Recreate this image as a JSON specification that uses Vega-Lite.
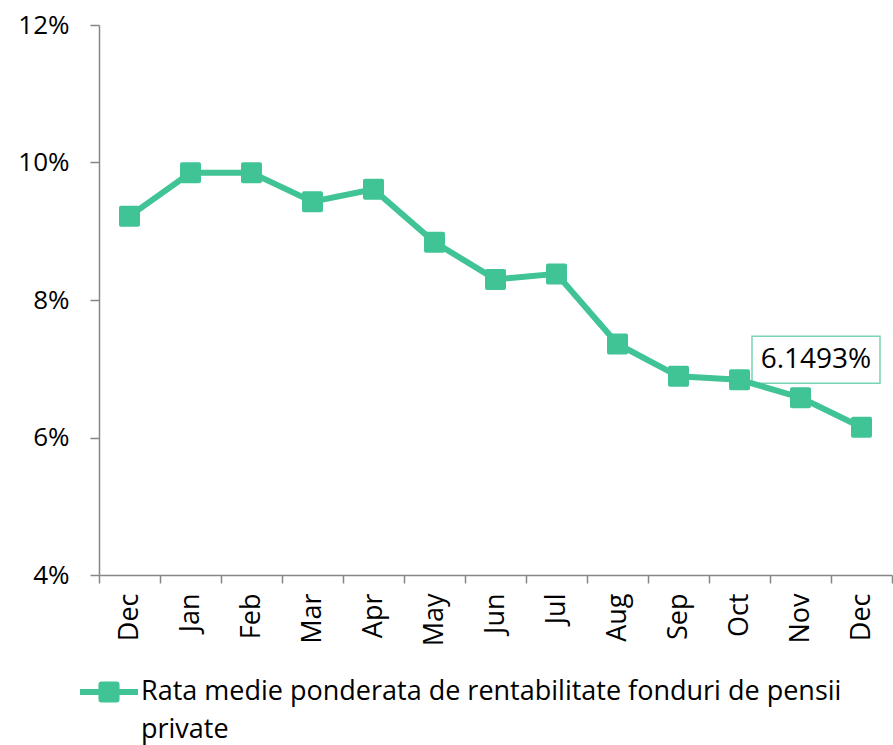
{
  "$schema": "https://vega.github.io/schema/vega-lite/v6.json",
  "width": 793,
  "height": 550,
  "autosize": {"type": "none"},
  "padding": {"left": 99, "top": 25, "right": 1, "bottom": 170},
  "background": "white",
  "config": {
    "view": {"stroke": null},
    "font": "Open Sans",
    "axis": {"labelFont": "Open Sans", "labelFontSize": 26, "labelColor": "#000000", "domainColor": "#868686", "tickColor": "#868686", "domainWidth": 1.5, "tickWidth": 1.5, "grid": false, "title": null}
  },
  "data": {
    "values": [
      {"m": "Dec_0", "v": 0.0922},
      {"m": "Jan", "v": 0.0985},
      {"m": "Feb", "v": 0.0985},
      {"m": "Mar", "v": 0.0943},
      {"m": "Apr", "v": 0.0961},
      {"m": "May", "v": 0.0884},
      {"m": "Jun", "v": 0.0830},
      {"m": "Jul", "v": 0.0838},
      {"m": "Aug", "v": 0.0736},
      {"m": "Sep", "v": 0.0689},
      {"m": "Oct", "v": 0.0684},
      {"m": "Nov", "v": 0.0658},
      {"m": "Dec_1", "v": 0.061493, "lab": "6.1493%"}
    ]
  },
  "encoding": {
    "x": {
      "field": "m", "type": "nominal", "sort": null,
      "scale": {"type": "band", "paddingInner": 0, "paddingOuter": 0, "domain": ["Dec_0", "Jan", "Feb", "Mar", "Apr", "May", "Jun", "Jul", "Aug", "Sep", "Oct", "Nov", "Dec_1"]},
      "axis": {"labelAngle": -90, "labelExpr": "split(datum.label, '_')[0]", "tickBand": "extent", "tickSize": 8, "labelPadding": 10, "labelFontSize": 27}
    },
    "y": {
      "field": "v", "type": "quantitative",
      "scale": {"domain": [0.04, 0.12], "nice": false, "zero": false},
      "axis": {"values": [0.04, 0.06, 0.08, 0.10, 0.12], "format": ".0%", "tickSize": 9, "labelPadding": 21}
    }
  },
  "layer": [
    {
      "transform": [{"filter": "datum.lab"}],
      "mark": {"type": "point", "shape": "M-1,-0.367H1V0.367H-1Z", "size": 16384, "filled": true, "fill": "white", "stroke": "#40C395", "strokeWidth": 1.5, "xOffset": -45.5, "yOffset": -67.5}
    },
    {
      "mark": {"type": "line", "color": "#40C395", "strokeWidth": 6},
      "encoding": {
        "color": {
          "datum": "Rata medie ponderata de rentabilitate fonduri de pensii private",
          "type": "nominal",
          "scale": {"range": ["#40C395"]},
          "legend": {
            "title": null,
            "orient": "none",
            "legendX": -22,
            "legendY": 635,
            "symbolType": "M-1,0H1M-0.26,-0.26H0.26V0.26H-0.26Z",
            "symbolSize": 3364,
            "symbolStrokeWidth": 6,
            "labelFont": "Open Sans",
            "labelFontSize": 27,
            "labelColor": "#000000",
            "labelLimit": 900,
            "labelOffset": 0,
            "labelExpr": "['Rata medie ponderata de rentabilitate fonduri de pensii', 'private']",
            "encode": {
              "symbols": {"update": {"fill": {"value": "#40C395"}, "stroke": {"value": "#40C395"}, "strokeWidth": {"value": 6}, "strokeJoin": {"value": "round"}, "opacity": {"value": 1}}},
              "labels": {"update": {"lineHeight": {"value": 38}}}
            }
          }
        }
      }
    },
    {
      "mark": {"type": "point", "shape": "square", "size": 289, "filled": true, "fill": "#40C395", "stroke": "#40C395", "strokeWidth": 4, "strokeJoin": "round", "opacity": 1}
    },
    {
      "transform": [{"filter": "datum.lab"}],
      "mark": {"type": "text", "font": "Open Sans", "fontSize": 28, "color": "#000000", "xOffset": -45.5, "yOffset": -67.5, "baseline": "middle", "align": "center"},
      "encoding": {"text": {"field": "lab"}}
    }
  ]
}
